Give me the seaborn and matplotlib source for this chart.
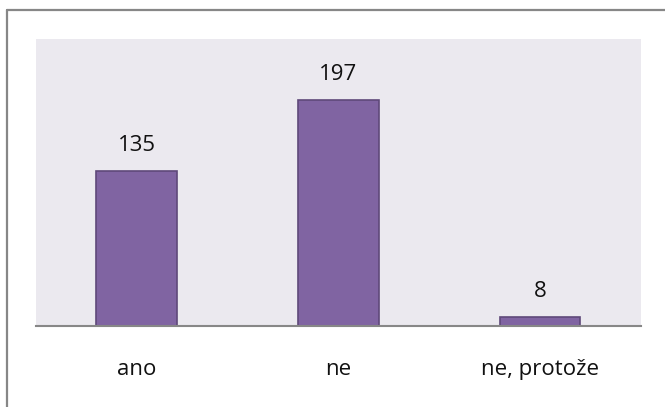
import pandas as pd
import seaborn as sns
import matplotlib.pyplot as plt
from matplotlib.lines import Line2D

categories = ['ano', 'ne', 'ne, protože']
values = [135, 197, 8]

df = pd.DataFrame({'odpoved': categories, 'pocet': values})

sns.set_style('white')
plt.rcParams['font.family'] = ['Open Sans', 'DejaVu Sans']

fig = plt.figure(figsize=(6.65, 4.07), dpi=100)
ax = fig.add_axes([0.0541, 0.199, 0.9098, 0.705])
ax.set_facecolor('#EBE9EF')

sns.barplot(data=df, x='odpoved', y='pocet', color='#8064A2', width=0.4,
            edgecolor='#5F497A', linewidth=1.2, saturation=1, ax=ax)

ax.set_ylim(0, 250)
ax.set_xlim(-0.5, 2.5)
# value labels above the bars
for i, v in enumerate(values):
    ax.annotate(str(v), (i, v), xytext=(0, 11), textcoords='offset points',
                ha='center', va='bottom', fontsize=16, color='#111111')

for s in ['top', 'right', 'left']:
    ax.spines[s].set_visible(False)
ax.spines['bottom'].set_color('#878787')
ax.spines['bottom'].set_linewidth(1.5)
ax.set_yticks([])
ax.tick_params(axis='x', length=0, pad=24, labelsize=16, colors='#111111')
ax.set_xlabel('')
ax.set_ylabel('')

# outer chart frame (left and top visible)
fig.add_artist(Line2D([6.5 / 665, 6.5 / 665], [0, 1 - 9.5 / 407], transform=fig.transFigure,
                      color='#878787', linewidth=1.6))
fig.add_artist(Line2D([6.5 / 665, 1], [1 - 9.5 / 407, 1 - 9.5 / 407], transform=fig.transFigure,
                      color='#878787', linewidth=1.6))

fig.savefig('out.png', dpi=100, facecolor='white')
